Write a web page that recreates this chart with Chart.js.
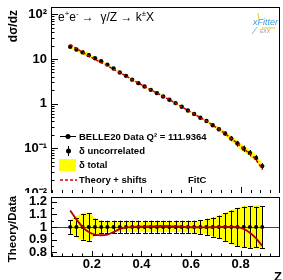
<!DOCTYPE html>
<html>
<head>
<meta charset="utf-8">
<script src="https://cdn.jsdelivr.net/npm/chart.js@4"></script>
<style>
  html, body { margin: 0; padding: 0; background: #fff; width: 283px; height: 280px; overflow: hidden; }
  #top { position: absolute; left: 0; top: 0; }
  #bot { position: absolute; left: 0; top: 193px; background: #fff; }
</style>
</head>
<body>
<canvas id="top" width="283" height="200"></canvas>
<canvas id="bot" width="283" height="87"></canvas>
<script>
// xFitter style plot, BELLE20 kaon cross section + ratio pad

const zVals = [0.1125, 0.1375, 0.1625, 0.1875, 0.2125, 0.2375, 0.2625, 0.2875,
  0.3125, 0.3375, 0.3625, 0.3875, 0.4125, 0.4375, 0.4625, 0.4875,
  0.5125, 0.5375, 0.5625, 0.5875, 0.6125, 0.6375, 0.6625, 0.6875,
  0.7125, 0.7375, 0.7625, 0.7875, 0.8125, 0.8375, 0.8625, 0.8875];

const dsigma = [18.8, 16.3, 14.1, 12.2, 10.4, 8.9, 7.5, 6.15,
  5.0, 4.2, 3.45, 2.88, 2.43, 2.04, 1.72, 1.45,
  1.22, 1.03, 0.85, 0.705, 0.59, 0.485, 0.41, 0.33,
  0.268, 0.215, 0.166, 0.128, 0.099, 0.079, 0.061, 0.040];

// theory / data
const theoryRatio = [1.13, 1.06, 1.0, 0.96, 0.94, 0.935, 0.94, 0.96,
  0.985, 0.997, 1.0, 1.002, 1.003, 1.005, 1.007, 1.008,
  1.007, 1.005, 1.003, 1.0, 0.998, 0.997, 0.997, 0.998,
  1.0, 1.0, 1.0, 0.998, 0.985, 0.955, 0.91, 0.85];

// relative errors
const uncErr = [0.055, 0.07, 0.1, 0.11, 0.065, 0.05, 0.05, 0.05,
  0.05, 0.05, 0.05, 0.05, 0.05, 0.05, 0.05, 0.05,
  0.05, 0.05, 0.05, 0.05, 0.05, 0.055, 0.065, 0.075,
  0.09, 0.11, 0.13, 0.15, 0.16, 0.165, 0.16, 0.165];

const totErr = [0.06, 0.085, 0.11, 0.115, 0.07, 0.045, 0.04, 0.04,
  0.04, 0.04, 0.04, 0.04, 0.04, 0.04, 0.04, 0.04,
  0.04, 0.04, 0.04, 0.04, 0.045, 0.05, 0.06, 0.075,
  0.09, 0.11, 0.135, 0.155, 0.165, 0.17, 0.17, 0.17];

const yDecades = [0.01, 0.1, 1, 10, 100];
const yDecadeLabels = ["10\u207B\u00B2", "10\u207B\u00B9", "1", "10", "10\u00B2"];
const xTicks = [0.2, 0.4, 0.6, 0.8];
const xTickLabels = ["0.2", "0.4", "0.6", "0.8"];
const rTicks = [0.8, 0.9, 1.0, 1.1, 1.2];
const rTickLabels = ["0.8", "0.9", "1", "1.1", "1.2"];

const X_MIN = 0.035, X_MAX = 0.955;
const FAM = "'Liberation Sans', Arial, sans-serif";
const YELLOW = "#ffff00";
const RED = "#d00000";

const pts = (ys) => zVals.map((z, i) => ({ x: z, y: ys[i] }));

// minor tick values, built from the tick lists
function logMinors() {
  const out = [];
  for (const d of yDecades) for (let k = 2; k <= 9; k++) out.push(d * k);
  return out;
}
function stepMinors(a, b, s) {
  const out = [];
  for (let v = a; v <= b + 1e-9; v += s) out.push(+v.toFixed(4));
  return out;
}

// no extra room for the end labels, keeps the pads where ROOT puts them
function noPad(s) {
  s.paddingTop = 0; s.paddingBottom = 0; s.paddingLeft = 0; s.paddingRight = 0;
}

// NOTE: chart.js paints datasets last-to-first, so index 0 ends up on top.
// order in both pads: 0 theory, 1 markers, 2 band upper (filled to 3), 3 band lower
const IDX_MARKERS = 1, IDX_BAND = 2;

// ---- plugins ----

// ROOT-like frame with inward ticks
const framePlugin = {
  id: "frame",
  afterDraw(chart, args, o) {
    const { ctx, chartArea: a, scales } = chart;
    ctx.save();
    ctx.strokeStyle = "#000";
    ctx.lineWidth = 1;
    ctx.strokeRect(a.left + 0.5, a.top + 0.5, a.right - a.left, a.bottom - a.top);
    ctx.beginPath();
    const ys = scales.y, xs = scales.x;
    const yt = (v, len) => {
      const p = Math.round(ys.getPixelForValue(v)) + 0.5;
      if (p < a.top || p > a.bottom) return;
      ctx.moveTo(a.left, p); ctx.lineTo(a.left + len, p);
    };
    const xt = (v, len) => {
      const p = Math.round(xs.getPixelForValue(v)) + 0.5;
      if (p < a.left || p > a.right) return;
      ctx.moveTo(p, a.bottom); ctx.lineTo(p, a.bottom - len);
    };
    o.yMajor.forEach(v => yt(v, o.yMajLen));
    o.yMinor.forEach(v => yt(v, o.yMinLen));
    o.xMajor.forEach(v => xt(v, o.xMajLen));
    o.xMinor.forEach(v => xt(v, o.xMinLen));
    ctx.stroke();
    ctx.restore();
  }
};

// vertical error bars drawn under the marker dataset
const errPlugin = {
  id: "errbars",
  beforeDatasetDraw(chart, args, o) {
    if (args.index !== IDX_MARKERS) return;
    const { ctx, scales } = chart;
    ctx.save();
    ctx.strokeStyle = "#000";
    ctx.lineWidth = 1;
    ctx.beginPath();
    zVals.forEach((z, i) => {
      const x = Math.round(scales.x.getPixelForValue(z)) + 0.5;
      const y1 = scales.y.getPixelForValue(o.lo[i]);
      const y2 = scales.y.getPixelForValue(o.hi[i]);
      ctx.moveTo(x, y1); ctx.lineTo(x, y2);
      if (o.cap) {
        ctx.moveTo(x - o.cap, Math.round(y1) + 0.5); ctx.lineTo(x + o.cap, Math.round(y1) + 0.5);
        ctx.moveTo(x - o.cap, Math.round(y2) + 0.5); ctx.lineTo(x + o.cap, Math.round(y2) + 0.5);
      }
    });
    ctx.stroke();
    ctx.restore();
  }
};

// line at ratio = 1, over the band
const unityPlugin = {
  id: "unity",
  afterDatasetDraw(chart, args) {
    if (args.index !== IDX_BAND) return;
    const { ctx, chartArea: a, scales } = chart;
    const y = Math.round(scales.y.getPixelForValue(1)) + 0.5;
    ctx.save();
    ctx.strokeStyle = "#444";
    ctx.lineWidth = 1;
    ctx.beginPath();
    ctx.moveTo(a.left, y); ctx.lineTo(a.right, y);
    ctx.stroke();
    ctx.restore();
  }
};

// draws pieces of text with superscripts
function richText(ctx, x, y, parts, size, weight) {
  for (const p of parts) {
    const s = p.sup ? size * 0.65 : size;
    ctx.font = `${weight} ${s}px ${FAM}`;
    ctx.fillText(p.t, x, p.sup ? y - size * 0.4 : y);
    x += ctx.measureText(p.t).width;
  }
}

const topTextPlugin = {
  id: "topText",
  afterDraw(chart) {
    const ctx = chart.ctx;
    ctx.save();
    ctx.fillStyle = "#000";
    ctx.textBaseline = "alphabetic";

    // y title
    ctx.save();
    ctx.translate(17, 10);
    ctx.rotate(-Math.PI / 2);
    ctx.textAlign = "right";
    ctx.font = `bold 12px ${FAM}`;
    ctx.fillText("d\u03C3/dz", 0, 0);
    ctx.restore();

    // process label
    ctx.textAlign = "left";
    richText(ctx, 58, 21, [
      { t: "e" }, { t: "+", sup: true }, { t: "e" }, { t: "-", sup: true },
      { t: " \u2192  \u03B3/Z \u2192 k" }, { t: "\u00B1", sup: true }, { t: "X" }
    ], 12, "normal");

    // xFitter logo, roughly
    ctx.font = `italic 9px ${FAM}`;
    ctx.fillStyle = "#3d9ad6";
    ctx.fillText("xFitter", 253, 25);
    ctx.strokeStyle = "#f2c230";
    ctx.lineWidth = 1;
    ctx.beginPath();
    ctx.moveTo(258, 13); ctx.lineTo(259, 20);
    ctx.moveTo(262, 28); ctx.lineTo(275, 28);
    ctx.stroke();
    ctx.strokeStyle = "#7fbde6";
    ctx.beginPath();
    ctx.moveTo(257, 27); ctx.lineTo(252, 34);
    ctx.stroke();
    ctx.font = `5px ${FAM}`;
    ctx.fillStyle = "#999";
    ctx.fillText("EXX", 260, 33);

    // legend
    ctx.fillStyle = "#000";
    ctx.strokeStyle = "#000";
    ctx.textBaseline = "middle";
    ctx.lineWidth = 1;
    ctx.beginPath();
    ctx.moveTo(60, 136.5); ctx.lineTo(76, 136.5);
    ctx.moveTo(68.5, 146); ctx.lineTo(68.5, 156);
    ctx.stroke();
    ctx.beginPath(); ctx.arc(68, 136.5, 2.5, 0, Math.PI * 2); ctx.fill();
    ctx.beginPath(); ctx.arc(68.5, 151, 2.5, 0, Math.PI * 2); ctx.fill();
    ctx.fillStyle = YELLOW;
    ctx.fillRect(59, 159, 17, 12);
    ctx.strokeStyle = RED;
    ctx.lineWidth = 1.5;
    ctx.setLineDash([3, 2]);
    ctx.beginPath(); ctx.moveTo(60, 180); ctx.lineTo(77, 180); ctx.stroke();
    ctx.setLineDash([]);

    ctx.fillStyle = "#000";
    ctx.font = `bold 9.5px ${FAM}`;
    ctx.fillText("BELLE20 Data Q\u00B2 = 111.9364", 79, 137);
    ctx.fillText("\u03B4 uncorrelated", 79, 151);
    ctx.fillText("\u03B4 total", 79, 165);
    ctx.fillText("Theory + shifts", 79, 180);
    ctx.fillText("FitC", 188, 180);
    ctx.restore();
  }
};

const botTextPlugin = {
  id: "botText",
  afterDraw(chart) {
    const ctx = chart.ctx;
    ctx.save();
    ctx.fillStyle = "#000";
    ctx.font = `bold 11.5px ${FAM}`;
    ctx.translate(16, 36);
    ctx.rotate(-Math.PI / 2);
    ctx.textAlign = "center";
    ctx.fillText("Theory/Data", 0, 0);
    ctx.restore();
    ctx.save();
    ctx.font = `bold 13px ${FAM}`;
    ctx.fillText("Z", 274, 88);
    ctx.restore();
  }
};

const baseOpts = {
  responsive: false,
  animation: false,
  events: []
};

// ---- top pad ----

new Chart(document.getElementById("top"), {
  type: "scatter",
  data: {
    datasets: [
      { data: pts(dsigma.map((v, i) => v * theoryRatio[i])), showLine: true, pointRadius: 0,
        borderColor: RED, borderWidth: 1.5, borderDash: [3, 2] },
      { data: pts(dsigma), pointRadius: 2.2, backgroundColor: "#000", borderWidth: 0 },
      { data: pts(dsigma.map((v, i) => v * (1 + totErr[i]))), showLine: true, borderWidth: 0,
        borderColor: "transparent", pointRadius: 0, fill: "+1", backgroundColor: YELLOW },
      { data: pts(dsigma.map((v, i) => v * (1 - totErr[i]))), showLine: true, borderWidth: 0,
        borderColor: "transparent", pointRadius: 0, fill: false }
    ]
  },
  options: {
    ...baseOpts,
    layout: { padding: { top: 7, bottom: 7, left: 0, right: 0 } },
    plugins: {
      legend: { display: false },
      tooltip: { enabled: false },
      frame: {
        yMajor: yDecades, yMinor: logMinors(), yMajLen: 7, yMinLen: 3.5,
        xMajor: xTicks, xMinor: stepMinors(0.04, 0.92, 0.04), xMajLen: 6, xMinLen: 3
      },
      errbars: {
        cap: 0,
        lo: dsigma.map((v, i) => v * (1 - uncErr[i])),
        hi: dsigma.map((v, i) => v * (1 + uncErr[i]))
      }
    },
    scales: {
      x: { type: "linear", min: X_MIN, max: X_MAX, display: false },
      y: {
        type: "logarithmic", min: 0.01, max: 146,
        afterFit: s => { s.width = 51; noPad(s); },
        afterBuildTicks: s => { s.ticks = yDecades.map(v => ({ value: v })); },
        grid: { display: false, drawTicks: false },
        border: { display: false },
        ticks: {
          autoSkip: false, padding: 4, color: "#000",
          font: { family: FAM, size: 13, weight: "bold" },
          callback: v => yDecadeLabels[yDecades.indexOf(v)]
        }
      }
    }
  },
  plugins: [framePlugin, errPlugin, topTextPlugin]
});

// ---- ratio pad ----

new Chart(document.getElementById("bot"), {
  type: "scatter",
  data: {
    datasets: [
      { data: pts(theoryRatio), showLine: true, pointRadius: 0, borderColor: "#b00000", borderWidth: 1.8,
        cubicInterpolationMode: "monotone" },
      { data: pts(zVals.map(() => 1)), pointRadius: 2, backgroundColor: "#000", borderWidth: 0 },
      { data: pts(totErr.map(e => 1 + e)), showLine: true, borderWidth: 0, borderColor: "transparent",
        pointRadius: 0, fill: "+1", backgroundColor: YELLOW },
      { data: pts(totErr.map(e => 1 - e)), showLine: true, borderWidth: 0, borderColor: "transparent",
        pointRadius: 0, fill: false }
    ]
  },
  options: {
    ...baseOpts,
    layout: { padding: { top: 1, bottom: 0, left: 0, right: 0 } },
    plugins: {
      legend: { display: false },
      tooltip: { enabled: false },
      frame: {
        yMajor: rTicks, yMinor: stepMinors(0.8, 1.2, 0.05), yMajLen: 6, yMinLen: 3,
        xMajor: xTicks, xMinor: stepMinors(0.04, 0.92, 0.04), xMajLen: 5, xMinLen: 2.5
      },
      errbars: {
        cap: 2.5,
        lo: uncErr.map(e => 1 - e),
        hi: uncErr.map(e => 1 + e)
      }
    },
    scales: {
      x: {
        type: "linear", min: X_MIN, max: X_MAX,
        afterFit: s => { s.height = 24; noPad(s); },
        afterBuildTicks: s => { s.ticks = xTicks.map(v => ({ value: v })); },
        grid: { display: false, drawTicks: false },
        border: { display: false },
        ticks: {
          autoSkip: false, maxRotation: 0, padding: 1, color: "#000",
          font: { family: FAM, size: 13, weight: "bold" },
          callback: v => xTickLabels[xTicks.indexOf(v)]
        }
      },
      y: {
        type: "linear", min: 0.771, max: 1.237,
        afterFit: s => { s.width = 51; noPad(s); },
        afterBuildTicks: s => { s.ticks = rTicks.map(v => ({ value: v })); },
        grid: { display: false, drawTicks: false },
        border: { display: false },
        ticks: {
          autoSkip: false, padding: 4, color: "#000",
          font: { family: FAM, size: 13, weight: "bold" },
          callback: v => rTickLabels[rTicks.indexOf(v)]
        }
      }
    }
  },
  plugins: [framePlugin, errPlugin, unityPlugin, botTextPlugin]
});
</script>
</body>
</html>
